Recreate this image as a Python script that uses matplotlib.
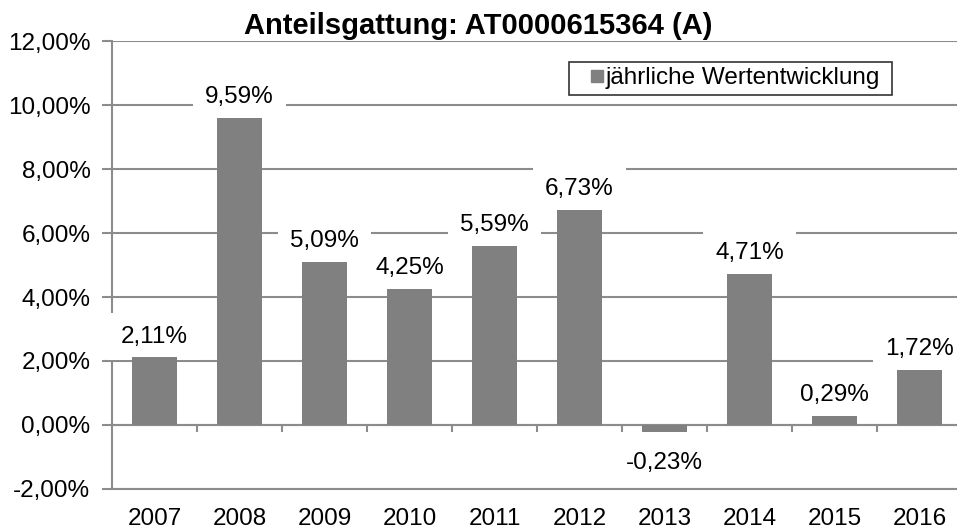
import matplotlib
matplotlib.use("Agg")
import matplotlib.pyplot as plt
from matplotlib.lines import Line2D
from matplotlib.ticker import FuncFormatter, MultipleLocator
import numpy as np

plt.rcParams['font.family'] = ['Liberation Sans', 'DejaVu Sans']

years = ["2007", "2008", "2009", "2010", "2011", "2012", "2013", "2014", "2015", "2016"]
values = [2.11, 9.59, 5.09, 4.25, 5.59, 6.73, -0.23, 4.71, 0.29, 1.72]
title = "Anteilsgattung: AT0000615364 (A)"
series_name = "jährliche Wertentwicklung"

grey = "#808080"
line_col = "#8c8c8c"
fs = 17.5

fig = plt.figure(figsize=(9.57, 5.29), dpi=100)
ax = fig.add_axes([112/957, 40/529, 850/957, 448/529])

x = np.arange(len(years))
# bars above the label boxes so the boxes only hide gridlines
ax.bar(x, values, width=0.53, color=grey, zorder=6)

ax.set_xlim(-0.5, len(years) - 0.5)
ax.set_ylim(-2, 12)
ax.yaxis.set_major_locator(MultipleLocator(2))
ax.yaxis.set_major_formatter(FuncFormatter(lambda v, p: f"{v:.2f}".replace(".", ",") + "%"))
ax.grid(axis="y", color=line_col, linewidth=1.5, zorder=0)
ax.axhline(0, color=line_col, linewidth=1.5, zorder=2)

for s in ["top", "right"]:
    ax.spines[s].set_visible(False)
for s in ["left", "bottom"]:
    ax.spines[s].set_color(line_col)
    ax.spines[s].set_linewidth(1.5)

ax.tick_params(axis="y", length=7, width=1.5, color=line_col, labelsize=fs, pad=8.5)
ax.set_xticks(x)
ax.set_xticklabels(years)
ax.tick_params(axis="x", length=0, labelsize=fs, pad=14)

# tick marks between categories on the zero line
sec = ax.secondary_xaxis(2/14)
sec.set_xticks(x[:-1] + 0.5)
sec.set_xticklabels([])
sec.spines["bottom"].set_visible(False)
sec.tick_params(axis="x", length=5, width=1.5, color=line_col, direction="out")

for xi, v in zip(x, values):
    off = 15 if v >= 0 else -22
    ax.annotate(f"{v:.2f}".replace(".", ",") + "%", (xi, v), xytext=(0, off),
                textcoords="offset points", ha="center", va="center", fontsize=fs,
                bbox=dict(boxstyle="square,pad=0.5", fc="white", ec="none"), zorder=5)

handle = Line2D([], [], marker="s", markersize=9, color=grey, linestyle="none")
leg = ax.legend([handle], [series_name + " "], loc="upper right",
                bbox_to_anchor=((892 - 112) / 850, (489 - 62) / 448),
                bbox_transform=ax.transAxes, fontsize=fs, frameon=True, fancybox=False,
                handlelength=1.82, handletextpad=-0.54, borderpad=0.22,
                borderaxespad=0)
leg.get_frame().set_edgecolor("black")
leg.get_frame().set_linewidth(1.2)
leg.set_zorder(8)

fig.suptitle(title, x=0.5, y=1 - 12/529, va="top", fontsize=21, fontweight="bold")

fig.savefig("out.png", dpi=100)
